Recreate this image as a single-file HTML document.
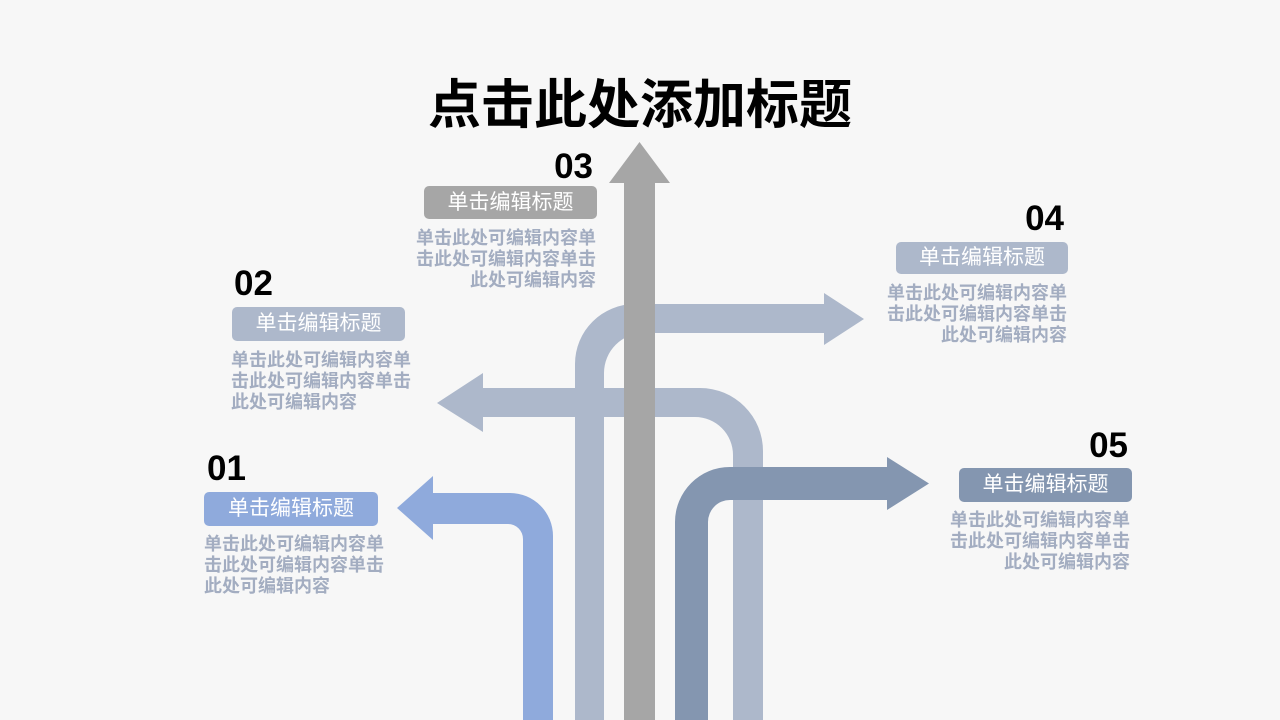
<!DOCTYPE html>
<html><head><meta charset="utf-8">
<style>
html,body{margin:0;padding:0;}
body{width:1280px;height:720px;background:#f7f7f7;position:relative;overflow:hidden;font-family:"Liberation Sans","Noto Sans CJK SC",sans-serif;}
.abs{position:absolute;}
.title{left:0;width:1280px;top:79px;text-align:center;font-family:"Liberation Sans","Noto Sans CJK SC",sans-serif;font-weight:bold;font-size:53px;line-height:53px;color:#000;}
.num{font-family:"Liberation Sans",sans-serif;font-weight:bold;font-size:35px;line-height:35px;color:#000;}
.box{border-radius:5px;color:#fff;font-size:21px;text-align:center;font-family:"Liberation Sans","Noto Sans CJK SC",sans-serif;font-weight:normal;}
.body{font-family:"Liberation Sans","Noto Sans CJK SC",sans-serif;font-weight:bold;font-size:18px;line-height:21px;color:#a3adc1;white-space:nowrap;}
.r{text-align:right;}
</style></head><body>
<svg class="abs" style="left:0;top:0" width="1280" height="720" viewBox="0 0 1280 720">
  <path fill="#adb8cb" d="M575,720 L575,364 A60,60 0 0 1 635,304 L824,304 L824,293 L864,319 L824,345 L824,333 L644,333 A40,40 0 0 0 604,373 L604,720 Z"/>
  <path fill="#adb8cb" d="M437,403 L483,373 L483,388 L700,388 A63,63 0 0 1 763,451 L763,720 L733,720 L733,455 A38,38 0 0 0 695,417 L483,417 L483,432 Z"/>
  <path fill="#8faadc" d="M397,508 L433,476 L433,493 L510,493 A43,43 0 0 1 553,536 L553,720 L523,720 L523,539 A15,15 0 0 0 508,524 L433,524 L433,540 Z"/>
  <path fill="#8496b0" d="M675,720 L675,522 A55,55 0 0 1 730,467 L887,467 L887,457 L929,483.5 L887,510 L887,500 L730,500 A22,22 0 0 0 708,522 L708,720 Z"/>
  <path fill="#a6a6a6" d="M624,720 L624,183 L609,183 L639.5,142 L670,183 L655,183 L655,720 Z"/>
</svg>

<div class="abs title">点击此处添加标题</div>

<!-- 01 -->
<div class="abs num" style="left:207px;top:451px;">01</div>
<div class="abs box" style="left:204px;top:492px;width:174px;height:34px;line-height:34px;background:#8faadc;">单击编辑标题</div>
<div class="abs body" style="left:204px;top:534px;">单击此处可编辑内容单<br>击此处可编辑内容单击<br>此处可编辑内容</div>

<!-- 02 -->
<div class="abs num" style="left:234px;top:266px;">02</div>
<div class="abs box" style="left:232px;top:307px;width:173px;height:34px;line-height:34px;background:#adb8cb;">单击编辑标题</div>
<div class="abs body" style="left:231px;top:350px;">单击此处可编辑内容单<br>击此处可编辑内容单击<br>此处可编辑内容</div>

<!-- 03 -->
<div class="abs num r" style="left:492px;width:101px;top:149px;">03</div>
<div class="abs box" style="left:424px;top:186px;width:173px;height:33px;line-height:33px;background:#a6a6a6;">单击编辑标题</div>
<div class="abs body r" style="left:396px;width:200px;top:228px;">单击此处可编辑内容单<br>击此处可编辑内容单击<br>此处可编辑内容</div>

<!-- 04 -->
<div class="abs num r" style="left:964px;width:100px;top:201px;">04</div>
<div class="abs box" style="left:896px;top:242px;width:172px;height:32px;line-height:32px;background:#adb8cb;">单击编辑标题</div>
<div class="abs body r" style="left:867px;width:200px;top:283px;">单击此处可编辑内容单<br>击此处可编辑内容单击<br>此处可编辑内容</div>

<!-- 05 -->
<div class="abs num r" style="left:1028px;width:100px;top:428px;">05</div>
<div class="abs box" style="left:959px;top:468px;width:173px;height:34px;line-height:34px;background:#8496b0;">单击编辑标题</div>
<div class="abs body r" style="left:930px;width:200px;top:510px;">单击此处可编辑内容单<br>击此处可编辑内容单击<br>此处可编辑内容</div>
</body></html>
